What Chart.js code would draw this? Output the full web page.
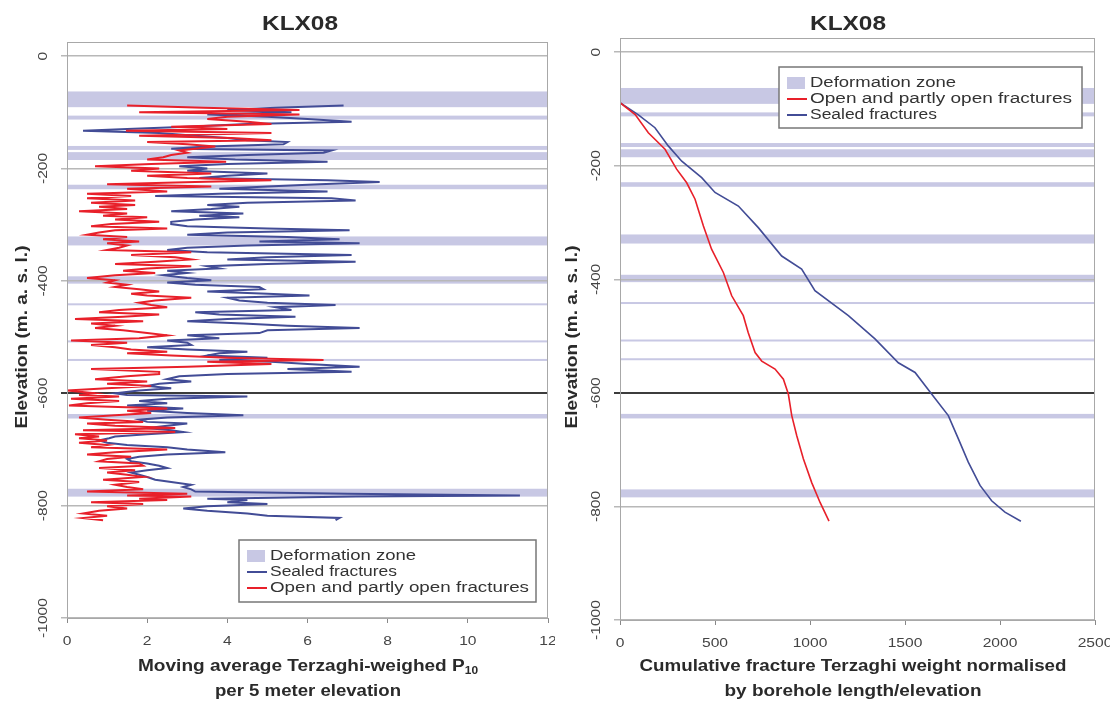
<!DOCTYPE html>
<html>
<head>
<meta charset="utf-8">
<script src="https://cdn.jsdelivr.net/npm/chart.js@4.4.1/dist/chart.umd.min.js"></script>
<style>
  body { margin: 0; background: #fff; }
  .panel { position: absolute; top: 0; width: 555px; height: 702px; }
</style>
</head>
<body>
<div class="panel" style="left:0"><canvas id="left" width="555" height="702"></canvas></div>
<div class="panel" style="left:555px"><canvas id="right" width="555" height="702"></canvas></div>
<script>
// axis ticks
const elevTicks = [0, -200, -400, -600, -800, -1000];
const p10Ticks = [0, 2, 4, 6, 8, 10, 12];
const cumTicks = [0, 500, 1000, 1500, 2000, 2500];

// deformation zones (top / bottom elevation, m)
const zoneTop    = [-63, -106, -160, -171, -229, -321, -392, -440, -506, -539, -637, -770];
const zoneBottom = [-91, -113, -167, -185, -237, -337, -405, -443, -509, -542, -645, -784];

// moving average P10, sampled along elevation
const movingElev = [
  -88, -92, -96, -100, -104, -108, -112, -117, -121, -126,
  -130, -133, -137, -142, -146, -150, -153, -157, -161, -165,
  -168, -172, -176, -180, -184, -188, -192, -196, -200, -204,
  -209, -213, -217, -221, -224, -228, -232, -236, -241, -245,
  -249, -253, -257, -261, -265, -268, -272, -276, -280, -284,
  -287, -291, -295, -299, -303, -307, -310, -314, -318, -322,
  -326, -330, -333, -337, -341, -345, -349, -354, -358, -362,
  -366, -370, -374, -378, -382, -386, -390, -395, -399, -403,
  -407, -411, -415, -419, -423, -426, -430, -435, -439, -443,
  -447, -452, -456, -460, -464, -468, -472, -476, -480, -484,
  -488, -493, -497, -502, -506, -510, -514, -518, -522, -526,
  -529, -533, -537, -541, -544, -548, -553, -557, -562, -566,
  -570, -575, -579, -583, -587, -591, -595, -600, -603, -606,
  -610, -614, -618, -622, -627, -631, -635, -639, -643, -647,
  -651, -654, -658, -662, -666, -669, -673, -677, -680, -684,
  -688, -692, -696, -700, -705, -709, -713, -717, -721, -725,
  -729, -733, -737, -741, -745, -749, -754, -758, -763, -767,
  -771, -775, -779, -782, -784, -788, -790, -794, -797, -801,
  -805, -809, -814, -818, -822, -826
];
const sealedP10 = [
  6.9, 5.2, 4.0, 5.6, 3.5, 5.0, 6.0, 7.1, 4.5, 3.0,
  1.5, 0.4, 2.3, 3.2, 4.0, 4.5, 5.5, 5.4, 3.5, 2.6,
  6.6, 6.4, 4.5, 3.0, 4.2, 6.5, 4.0, 2.8, 3.5, 3.0,
  5.0, 4.0, 3.3, 6.5, 7.8, 6.3, 5.0, 3.8, 6.5, 3.8,
  2.2, 6.6, 7.2, 4.5, 3.5, 4.3, 3.6, 2.6, 4.4, 3.3,
  4.3, 3.2, 2.6, 2.6, 3.0, 5.0, 7.05, 4.0, 3.0, 5.5,
  6.8, 4.8, 7.3, 4.5, 3.0, 2.5, 3.5, 7.1, 5.0, 4.0,
  7.2, 5.0, 3.5, 3.8, 2.5, 3.0, 2.4, 3.0, 3.6, 2.5,
  3.2, 4.8, 4.9, 3.5, 5.0, 6.05, 4.0, 4.3, 5.0, 6.7,
  5.2, 5.6, 3.2, 3.8, 5.7, 4.0, 3.0, 4.4, 5.5, 7.3,
  5.0, 4.8, 3.0, 3.8, 2.5, 3.0, 3.1, 2.0, 3.0, 4.5,
  3.8, 3.5, 5.0, 3.8, 5.1, 6.0, 7.3, 5.5, 7.1, 4.0,
  2.8, 2.5, 3.1, 2.3, 2.0, 2.6, 1.8, 1.2, 1.5, 4.5,
  2.5, 1.8, 2.5, 1.5, 2.9, 2.0, 3.0, 4.4, 2.5, 1.8,
  2.0, 3.0, 2.5, 2.0, 2.6, 2.9, 2.0, 1.2, 1.05, 0.8,
  1.0, 1.5, 2.5, 3.0, 3.95, 2.5, 1.8, 1.5, 1.6, 2.0,
  2.3, 2.5, 2.0, 1.6, 1.8, 2.0, 2.2, 2.6, 3.1, 2.9,
  3.1, 3.2, 7.0, 11.3, 7.2, 3.5, 4.5, 4.0, 5.0, 3.5,
  2.9, 3.5, 4.5, 5.0, 6.8, 6.7
];
const openP10 = [
  1.5, 3.4, 5.8, 1.8, 5.8, 4.0, 3.5, 4.5, 5.1, 2.6,
  4.0, 1.47, 5.1, 1.8, 4.1, 5.1, 2.0, 3.0, 3.7, 3.2,
  2.8, 3.0, 2.6, 2.4, 2.0, 3.97, 2.1, 0.7, 2.3, 1.6,
  3.6, 2.0, 3.0, 5.1, 3.2, 1.0, 3.6, 1.5, 2.5, 0.5,
  1.6, 0.5, 1.7, 0.6, 1.7, 0.8, 1.5, 0.3, 1.5, 0.9,
  2.0, 1.2, 2.3, 1.1, 0.6, 2.5, 1.2, 0.8, 0.5, 1.5,
  0.9, 1.8, 1.0, 1.5, 1.3, 1.0, 3.1, 1.6, 2.7, 3.1,
  2.2, 1.2, 3.1, 2.0, 1.4, 2.2, 1.2, 0.5, 1.2, 1.0,
  1.5, 1.2, 1.8, 2.3, 1.6, 2.0, 3.1, 2.2, 1.8, 2.1,
  2.5, 1.3, 0.8, 2.3, 1.4, 0.2, 1.9, 0.6, 1.2, 0.7,
  1.4, 2.0, 2.5, 1.8, 0.1, 1.5, 0.6, 1.2, 1.6, 2.5,
  1.5, 2.6, 4.0, 6.4, 3.5, 5.1, 3.0, 0.6, 2.3, 2.3,
  1.5, 0.7, 2.0, 1.0, 2.1, 1.0, 0.0, 0.7, 0.3, 1.3,
  0.1, 1.3, 0.5, 0.05, 2.5, 1.5, 2.1, 1.2, 0.3, 1.0,
  1.9, 0.5, 1.2, 2.7, 0.4, 2.7, 0.2, 0.8, 0.3, 1.0,
  0.3, 1.0, 0.6, 2.5, 1.2, 0.5, 1.6, 1.0, 0.8, 1.8,
  1.9, 0.8, 1.7, 1.0, 1.5, 1.9, 0.9, 1.8, 1.2, 1.5,
  1.9, 0.5, 3.0, 1.5, 3.1, 1.8, 2.5, 0.6, 1.9, 1.0,
  1.5, 0.8, 0.4, 1.0, 0.4, 0.9
];

// cumulative Terzaghi weight
const cumOpenElev = [-89, -110, -142, -171, -206, -230, -259, -306, -347, -388, -429, -464,
  -494, -529, -544, -558, -576, -602, -640, -675, -716, -758, -793, -826];
const cumOpen = [0, 80, 149, 237, 298, 351, 395, 439, 482, 544, 588, 649,
  675, 711, 746, 816, 860, 886, 904, 930, 965, 1009, 1053, 1100];
const cumSealedElev = [-89, -110, -133, -165, -192, -221, -247, -271, -309, -359, -382, -420,
  -464, -505, -547, -564, -602, -640, -681, -722, -763, -790, -810, -826];
const cumSealed = [0, 95, 184, 254, 325, 430, 500, 623, 728, 851, 956, 1026,
  1202, 1342, 1465, 1553, 1640, 1728, 1781, 1833, 1895, 1956, 2026, 2110];

const FONT = '"Liberation Sans", Arial, sans-serif';
const ZONE = '#c8c8e4';
const BLUE = 'rgb(66, 76, 150)';
const RED = 'rgb(232, 32, 42)';
const TXT = '#2a2a2a';

// draws text stretched horizontally, either by a factor or to a fixed width
function drawText(ctx, str, x, y, o) {
  ctx.save();
  ctx.font = o.font;
  ctx.fillStyle = o.color || TXT;
  ctx.textBaseline = 'middle';
  ctx.textAlign = o.align || 'center';
  ctx.translate(x, y);
  if (o.rotate) ctx.rotate(o.rotate);
  const sx = o.width ? o.width / ctx.measureText(str).width : (o.stretch || 1.2);
  ctx.scale(sx, 1);
  ctx.fillText(str, 0, 0);
  ctx.restore();
}

// "Moving average Terzaghi-weighed P" with a subscript 10
function drawSubTitle(ctx, main, sub, cx, cy, width) {
  ctx.save();
  const f1 = 'bold 16px ' + FONT, f2 = 'bold 10px ' + FONT;
  ctx.font = f1; const w1 = ctx.measureText(main).width;
  ctx.font = f2; const w2 = ctx.measureText(sub).width;
  const total = w1 + w2;
  ctx.translate(cx, cy);
  ctx.scale(width / total, 1);
  ctx.fillStyle = TXT;
  ctx.textBaseline = 'middle';
  ctx.textAlign = 'left';
  ctx.font = f1; ctx.fillText(main, -total / 2, 0);
  ctx.font = f2; ctx.fillText(sub, -total / 2 + w1, 4);
  ctx.restore();
}

const zonesPlugin = {
  id: 'zones',
  beforeDraw(chart) {
    const { ctx, chartArea: a, scales: { y } } = chart;
    ctx.save();
    ctx.fillStyle = '#fff';
    ctx.fillRect(0, 0, chart.width, chart.height);
    ctx.fillStyle = ZONE;
    zoneTop.forEach((top, i) => {
      const y0 = y.getPixelForValue(top);
      const y1 = y.getPixelForValue(zoneBottom[i]);
      ctx.fillRect(a.left, y0, a.right - a.left, Math.max(y1 - y0, 2));
    });
    ctx.restore();
  }
};

const decorPlugin = {
  id: 'decor',
  afterDraw(chart, args, p) {
    const { ctx, chartArea: a, scales: { x, y } } = chart;
    // plot frame
    ctx.save();
    ctx.strokeStyle = '#a8a8a8';
    ctx.lineWidth = 1;
    ctx.strokeRect(a.left + 0.5, a.top + 0.5, a.right - a.left - 1, a.bottom - a.top);
    ctx.restore();

    const tickFont = '13px ' + FONT;
    p.xTicks.forEach(v => drawText(ctx, String(v), x.getPixelForValue(v), a.bottom + 23, { font: tickFont, color: '#444' }));
    elevTicks.forEach(v => drawText(ctx, String(v), a.left - 24, y.getPixelForValue(v), { font: tickFont, color: '#444', rotate: -Math.PI / 2 }));

    drawText(ctx, 'KLX08', p.titleX, 24, { font: 'bold 20px ' + FONT, width: 76 });
    drawText(ctx, 'Elevation (m. a. s. l.)', p.yTitleX, 337, { font: 'bold 16px ' + FONT, width: 183, rotate: -Math.PI / 2 });

    if (p.xTitleSub) drawSubTitle(ctx, p.xTitle[0], p.xTitleSub, p.xTitleX, 667, p.xTitleW[0]);
    else drawText(ctx, p.xTitle[0], p.xTitleX, 667, { font: 'bold 16px ' + FONT, width: p.xTitleW[0] });
    drawText(ctx, p.xTitle[1], p.xTitleX, 692, { font: 'bold 16px ' + FONT, width: p.xTitleW[1] });

    // legend box
    const b = p.legend;
    ctx.save();
    ctx.fillStyle = '#fff';
    ctx.fillRect(b.x, b.y, b.w, b.h);
    ctx.strokeStyle = '#777';
    ctx.lineWidth = 1.5;
    ctx.strokeRect(b.x, b.y, b.w, b.h);
    b.items.forEach((it, i) => {
      const ry = b.y + 16 + i * 16;
      if (it.kind === 'zone') {
        ctx.fillStyle = ZONE;
        ctx.fillRect(b.x + 8, ry - 6, 18, 12);
      } else {
        ctx.strokeStyle = it.color;
        ctx.lineWidth = 2;
        ctx.beginPath();
        ctx.moveTo(b.x + 8, ry);
        ctx.lineTo(b.x + 28, ry);
        ctx.stroke();
      }
      drawText(ctx, it.label, b.x + 31, ry, { font: '14px ' + FONT, color: '#333', align: 'left', width: it.w });
    });
    ctx.restore();
  }
};

function series(elev, vals, color, order, width) {
  return {
    data: elev.map((e, i) => ({ x: vals[i], y: e })),
    showLine: true,
    borderColor: color,
    borderWidth: width,
    pointRadius: 0,
    tension: 0,
    order: order
  };
}

function panel(id, datasets, xMax, xTicks, pad, yWidth, xHeight, decor) {
  return new Chart(document.getElementById(id), {
    type: 'scatter',
    data: { datasets },
    plugins: [zonesPlugin, decorPlugin],
    options: {
      responsive: false,
      animation: false,
      events: [],
      layout: { padding: pad, autoPadding: false },
      plugins: { legend: { display: false }, tooltip: { enabled: false }, decor },
      scales: {
        x: {
          type: 'linear', min: 0, max: xMax,
          afterBuildTicks: s => { s.ticks = xTicks.map(v => ({ value: v })); },
          afterFit: s => { s.height = xHeight; },
          ticks: { display: false },
          grid: { drawOnChartArea: false, tickLength: 5, color: '#888' },
          border: { color: '#999' }
        },
        y: {
          type: 'linear', min: -1000, max: 25,
          afterBuildTicks: s => { s.ticks = elevTicks.map(v => ({ value: v })); },
          afterFit: s => { s.width = yWidth; },
          ticks: { display: false },
          grid: {
            tickLength: 6,
            color: c => (c.tick && c.tick.value === -600) ? '#3c3c3c' : '#b8b8b8',
            lineWidth: c => (c.tick && c.tick.value === -600) ? 2 : 1.5
          },
          border: { color: '#999' }
        }
      }
    }
  });
}

panel('left', [
  series(movingElev, sealedP10, BLUE, 2, 2),
  series(movingElev, openP10, RED, 1, 2)
], 12, p10Ticks, { top: 42, right: 7, left: 0, bottom: 0 }, 67, 84, {
  xTicks: p10Ticks,
  titleX: 300, yTitleX: 23,
  xTitle: ['Moving average Terzaghi-weighed P', 'per 5 meter elevation'],
  xTitleSub: '10', xTitleX: 308, xTitleW: [340, 186],
  legend: {
    x: 239, y: 540, w: 297, h: 62,
    items: [
      { kind: 'zone', label: 'Deformation zone', w: 146 },
      { kind: 'line', color: BLUE, label: 'Sealed fractures', w: 127 },
      { kind: 'line', color: RED, label: 'Open and partly open fractures', w: 259 }
    ]
  }
});

panel('right', [
  series(cumOpenElev, cumOpen, RED, 1, 1.6),
  series(cumSealedElev, cumSealed, BLUE, 2, 1.6)
], 2500, cumTicks, { top: 38, right: 15, left: 0, bottom: 0 }, 65, 82, {
  xTicks: cumTicks,
  titleX: 293, yTitleX: 18,
  xTitle: ['Cumulative fracture Terzaghi weight normalised', 'by borehole length/elevation'],
  xTitleSub: null, xTitleX: 298, xTitleW: [427, 257],
  legend: {
    x: 224, y: 67, w: 303, h: 61,
    items: [
      { kind: 'zone', label: 'Deformation zone', w: 146 },
      { kind: 'line', color: RED, label: 'Open and partly open fractures', w: 262 },
      { kind: 'line', color: BLUE, label: 'Sealed fractures', w: 127 }
    ]
  }
});
</script>
</body>
</html>
